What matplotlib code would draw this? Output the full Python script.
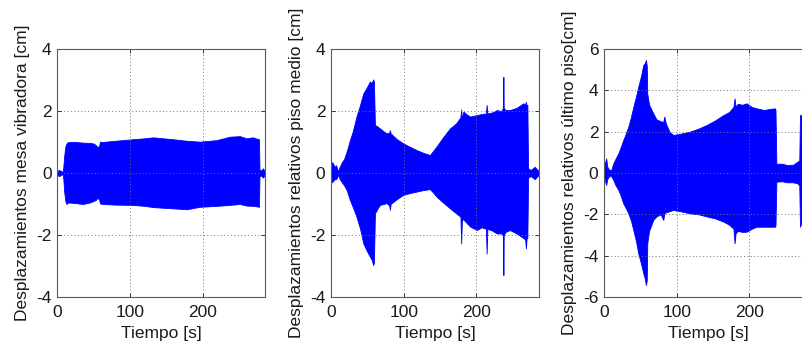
import matplotlib
matplotlib.use("Agg")
import matplotlib.pyplot as plt

plt.rcParams["font.family"] = ["Liberation Sans", "DejaVu Sans"]
plt.rcParams["axes.unicode_minus"] = False

# Envelope of the recorded displacement signals (time [s], upper / lower peak [cm])
t_mesa = [0, 2, 4, 6, 7.5, 8.3, 9.5, 11, 12.5, 15, 25, 35, 45, 50, 53, 54.5, 56, 57.5,
          58.6, 62, 80, 104, 120, 132, 145, 159, 178, 196, 219, 237, 251, 260, 269,
          275, 277.3, 278, 280, 283, 285, 286]
sup_mesa = [0.05, 0.1, 0.08, 0.05, 0.05, 0.2, 0.55, 0.85, 0.95, 1.0, 1.0, 0.98, 0.97,
            0.95, 0.9, 0.85, 0.85, 0.87, 1.01, 1.0, 1.04, 1.09, 1.12, 1.15, 1.12,
            1.09, 1.04, 1.01, 1.06, 1.17, 1.19, 1.12, 1.15, 1.1, 1.09, 0.1, 0.08,
            0.15, 0.05, 0.03]
inf_mesa = [-0.05, -0.1, -0.08, -0.05, -0.05, -0.2, -0.6, -0.9, -1.0, -0.95, -0.97,
            -1.0, -0.95, -0.9, -0.87, -0.82, -0.82, -0.84, -0.98, -1.0, -1.02, -1.03,
            -1.06, -1.1, -1.12, -1.14, -1.17, -1.09, -1.06, -1.03, -1.0, -1.05, -1.06,
            -1.08, -1.09, -0.1, -0.08, -0.15, -0.05, -0.03]

t_medio = [0, 1.5, 3, 5, 7, 9, 10.5, 12, 15, 18, 21.5, 26, 30, 35, 40, 44.4, 49,
           53.5, 56, 58, 59, 60.4, 64, 67.2, 72, 76.4, 80, 81, 82, 90, 99, 108,
           117.6, 127, 136, 140, 145, 154, 163.6, 172, 178, 179, 180, 182, 186,
           191.4, 200.5, 207, 213, 214, 215, 221, 228, 234, 236.5, 237, 237.5, 240,
           246, 255, 264.6, 267, 268, 269, 270, 271, 275, 280, 284, 286]
sup_medio = [0.1, 0.35, 0.3, 0.2, 0.25, 0.1, 0.1, 0.2, 0.35, 0.45, 0.69, 1.06, 1.35,
             1.82, 2.2, 2.57, 2.75, 2.95, 2.9, 3.02, 2.95, 1.55, 1.5, 1.44, 1.35,
             1.28, 1.3, 1.38, 1.28, 1.1, 0.96, 0.85, 0.74, 0.65, 0.58, 0.7, 0.85,
             1.15, 1.44, 1.6, 1.8, 2.05, 1.75, 1.98, 1.9, 1.82, 1.87, 1.9, 1.92, 2.2,
             1.92, 1.95, 2.03, 2.0, 2.1, 3.1, 2.1, 2.03, 2.03, 2.1, 2.25, 2.2, 2.3,
             2.15, 2.2, 0.15, 0.1, 0.2, 0.1, 0.05]
inf_medio = [-0.1, -0.3, -0.25, -0.2, -0.2, -0.1, -0.1, -0.2, -0.3, -0.4, -0.55,
             -0.87, -1.1, -1.41, -1.8, -2.27, -2.5, -2.7, -2.8, -2.97, -2.9, -1.3,
             -1.15, -1.03, -1.0, -0.97, -1.05, -1.19, -1.0, -0.85, -0.71, -0.65,
             -0.6, -0.55, -0.52, -0.62, -0.76, -0.95, -1.14, -1.3, -1.41, -2.27,
             -1.5, -1.5, -1.6, -1.73, -1.84, -1.75, -1.8, -2.6, -1.8, -1.85, -1.95,
             -1.95, -2.0, -3.29, -2.0, -1.9, -1.84, -1.95, -2.1, -2.15, -2.43, -2.1,
             -2.1, -0.15, -0.1, -0.2, -0.1, -0.05]

t_ultimo = [0, 1.5, 3, 4.5, 6, 8, 10, 12.8, 16, 19.7, 23, 26.5, 30, 33.4, 37, 40.3,
            44, 47.1, 51, 54, 56, 57.6, 58.8, 59.5, 62, 67.7, 72, 78, 81.5, 83, 85,
            90, 95.2, 105, 118, 130, 141, 153, 164, 172, 178, 179.5, 181, 184, 190,
            196, 203, 209.7, 220, 228, 235, 235.8, 237, 245, 251, 260, 266, 268.5,
            269.5, 272, 276, 280, 284, 286]
sup_ultimo = [0.1, 0.5, 0.71, 0.3, 0.2, 0.15, 0.15, 0.47, 0.7, 0.95, 1.25, 1.6, 1.9,
              2.24, 2.7, 3.2, 3.7, 4.18, 4.7, 5.23, 5.3, 5.47, 5.2, 3.85, 3.3, 2.89,
              2.6, 2.5, 2.48, 2.73, 2.4, 2.0, 1.84, 1.9, 2.0, 2.15, 2.32, 2.55, 2.8,
              2.95, 3.2, 3.61, 3.2, 3.35, 3.3, 3.37, 3.2, 3.13, 3.05, 3.1, 3.13, 3.05,
              0.45, 0.45, 0.39, 0.4, 0.55, 0.6, 2.8, 2.8, 2.7, 2.75, 2.7, 2.7]
inf_ultimo = [-0.1, -0.4, -0.58, -0.3, -0.2, -0.15, -0.15, -0.34, -0.6, -0.82, -1.1,
              -1.47, -1.7, -1.95, -2.3, -2.76, -3.3, -3.89, -4.4, -4.85, -5.1, -5.42,
              -5.2, -3.4, -2.8, -2.27, -2.1, -2.0, -2.27, -1.95, -1.9, -1.85, -1.79,
              -1.85, -1.95, -2.0, -2.1, -2.2, -2.35, -2.5, -2.7, -3.4, -2.92, -2.8,
              -2.85, -2.84, -2.7, -2.6, -2.6, -2.6, -2.6, -2.55, -0.42, -0.4, -0.45,
              -0.45, -0.5, -0.6, -2.6, -2.35, -2.3, -2.2, -2.3, -2.3]

ylabels = ["Desplazamientos mesa vibradora [cm]",
           "Desplazamientos relativos piso medio [cm]",
           "Desplazamientos relativos último piso[cm]"]
xlabel = "Tiempo [s]"
xticks = [0, 100, 200]
yticks_small = [-4, -2, 0, 2, 4]
yticks_large = [-6, -4, -2, 0, 2, 4, 6]

series = [(t_mesa, sup_mesa, inf_mesa, yticks_small),
          (t_medio, sup_medio, inf_medio, yticks_small),
          (t_ultimo, sup_ultimo, inf_ultimo, yticks_large)]

W, H = 803, 348
fig = plt.figure(figsize=(W / 100, H / 100), dpi=100)
lefts = [57.3, 331, 604]
ax_w, ax_top, ax_bot = 208, 49, 297
fs = 12.5

for left, (t, up, lo, yt), lab in zip(lefts, series, ylabels):
    ax = fig.add_axes([left / W, 1 - ax_bot / H, ax_w / W, (ax_bot - ax_top) / H])
    ax.fill_between(t, lo, up, color="#0000ff", linewidth=0.6, edgecolor="#0000ff")
    ax.set_xlim(0, 286)
    ax.set_ylim(yt[0], yt[-1])
    ax.set_xticks(xticks)
    ax.set_yticks(yt)
    ax.set_yticklabels([str(v) for v in yt])
    ax.grid(True, linestyle=(0, (1, 2.5)), color="0.45", linewidth=0.7)
    ax.tick_params(direction="in", length=3, width=0.6, top=True, right=True,
                   labelsize=fs, colors="0.1")
    ax.tick_params(axis="x", pad=6)
    ax.tick_params(axis="y", pad=4)
    for s in ax.spines.values():
        s.set_color("0.35")
        s.set_linewidth(0.8)
    ax.set_xlabel(xlabel, fontsize=fs, color="0.1", labelpad=4)
    ax.text(-0.168, 0.5, lab, transform=ax.transAxes, rotation=90, ha="center",
            va="center", fontsize=fs, color="0.1")

fig.savefig("out.png", dpi=100)
